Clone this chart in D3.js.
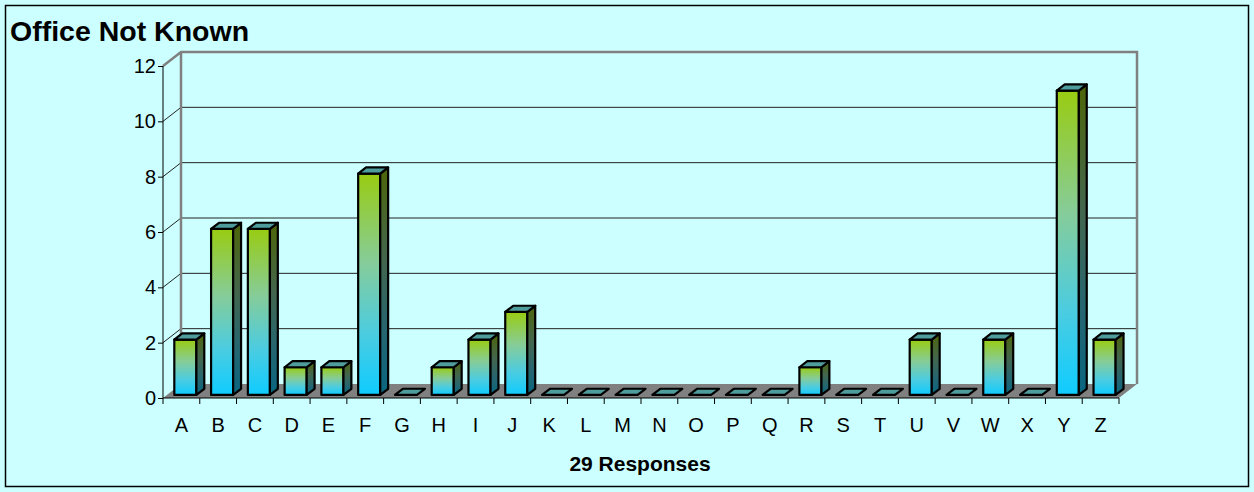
<!DOCTYPE html>
<html>
<head>
<meta charset="utf-8">
<script src="https://cdn.jsdelivr.net/npm/d3@7"></script>
<style>
  html, body { margin: 0; padding: 0; background: #ccffff; }
  svg { display: block; }
  text { font-family: Arial, "Liberation Sans", sans-serif; fill: #000; }
</style>
</head>
<body>
<svg id="chart" width="1254" height="492"></svg>
<script>
// Responses per office letter
const categories = ["A","B","C","D","E","F","G","H","I","J","K","L","M","N","O","P","Q","R","S","T","U","V","W","X","Y","Z"];
const counts     = [ 2,  6,  6,  1,  1,  8,  0,  1,  2,  3,  0,  0,  0,  0,  0,  0,  0,  1,  0,  0,  2,  0,  2,  0, 11,  2];
const yTicks     = [0, 2, 4, 6, 8, 10, 12];
const chartTitle = "Office Not Known";
const xTitle     = "29 Responses";

const W = 1254, H = 492;
const svg = d3.select("#chart");

// Plot frame (front plane) and the 3-D depth offset of the back wall
const pLeft = 163, pRight = 1119, pTop = 66, pBottom = 398;
const depthX = 18, depthY = 14;

const x = d3.scaleBand().domain(categories).range([pLeft, pRight]).paddingInner(0.4).paddingOuter(0.2);
const xEdge = d3.scaleBand().domain(categories).range([pLeft, pRight]).padding(0);
const y = d3.scaleLinear().domain([0, 12]).range([pBottom, pTop]);

// Outer frame
svg.append("rect").attr("x", 5.5).attr("y", 5.5).attr("width", W - 11).attr("height", H - 11)
  .attr("fill", "#ccffff").attr("stroke", "#000").attr("stroke-width", 1.5);

// Title
svg.append("text").attr("x", 10).attr("y", 41).attr("font-size", 28.5).attr("font-weight", "bold")
  .text(chartTitle);

// Gradients
const defs = svg.append("defs");
function grad(id, stops) {
  const g = defs.append("linearGradient").attr("id", id).attr("x1", 0).attr("y1", 0).attr("x2", 0).attr("y2", 1);
  stops.forEach(([o, c]) => g.append("stop").attr("offset", o).attr("stop-color", c));
}
grad("gFront", [[0, "#99cc11"], [0.4, "#86cc99"], [0.72, "#4ccce0"], [1, "#0fccff"]]);
grad("gSide",  [[0, "#4d6608"], [0.4, "#43664d"], [0.72, "#266670"], [1, "#086680"]]);

// Floor
svg.append("polygon")
  .attr("points", [[pLeft, pBottom], [pRight, pBottom], [pRight + depthX, pBottom - depthY], [pLeft + depthX, pBottom - depthY]].map(p => p.join(",")).join(" "))
  .attr("fill", "#808080");

// Gridlines: diagonal on the side wall and horizontal on the back wall
const gridVals = yTicks.filter(v => v > 0 && v < 12);
svg.append("g").selectAll("path").data(gridVals).join("path")
  .attr("d", v => `M${pLeft},${y(v)}L${pLeft + depthX},${y(v) - depthY}L${pRight + depthX},${y(v) - depthY}`)
  .attr("fill", "none").attr("stroke", "#222").attr("stroke-width", 1);

// Back wall border (gray)
svg.append("path")
  .attr("d", `M${pLeft},${y(12)}L${pLeft + depthX},${y(12) - depthY}L${pRight + depthX},${y(12) - depthY}L${pRight + depthX},${pBottom - depthY}` +
             `M${pLeft + depthX},${y(12) - depthY}L${pLeft + depthX},${pBottom - depthY}`)
  .attr("fill", "none").attr("stroke", "#808080").attr("stroke-width", 2.5);

// Bars (3-D boxes placed in the middle of the depth)
const f0 = 0.22, f1 = 0.66;
const sx0 = depthX * f0, sy0 = depthY * f0;
const bdx = depthX * (f1 - f0), bdy = depthY * (f1 - f0);
const bw = x.bandwidth();
const data = categories.map((c, i) => ({ c, v: counts[i] }));

const bars = svg.append("g").selectAll("g").data(data).join("g");
bars.each(function(d) {
  const g = d3.select(this);
  const x0 = x(d.c) + sx0, x1 = x0 + bw;
  const yt = y(d.v) - sy0, yb = y(0) - sy0;
  if (d.v > 0) {
    g.append("rect").attr("x", x0).attr("y", yt).attr("width", bw).attr("height", yb - yt)
      .attr("fill", "url(#gFront)").attr("stroke", "#000").attr("stroke-width", 2.2).attr("stroke-linejoin", "round");
    g.append("polygon")
      .attr("points", [[x1, yt], [x1 + bdx, yt - bdy], [x1 + bdx, yb - bdy], [x1, yb]].map(p => p.join(",")).join(" "))
      .attr("fill", "url(#gSide)").attr("stroke", "#000").attr("stroke-width", 2.2).attr("stroke-linejoin", "round");
  }
  g.append("polygon")
    .attr("points", [[x0, yt], [x1, yt], [x1 + bdx, yt - bdy], [x0 + bdx, yt - bdy]].map(p => p.join(",")).join(" "))
    .attr("fill", "#4f9c9c").attr("stroke", "#000").attr("stroke-width", 2.2).attr("stroke-linejoin", "round");
});

// Value axis
const yAxis = d3.axisLeft(y).tickValues(yTicks).tickSize(5).tickPadding(2).tickFormat(d3.format("d"));
const ya = svg.append("g").attr("transform", `translate(${pLeft},0)`).call(yAxis);
ya.select(".domain").attr("stroke", "#000").attr("d", `M0,${pTop}V${pBottom}`);
ya.selectAll("text").attr("font-size", 20).attr("font-family", "Arial, 'Liberation Sans', sans-serif");

// Category axis: ticks on category boundaries
const xa = svg.append("g");
xa.append("line").attr("x1", pLeft).attr("x2", pRight).attr("y1", pBottom).attr("y2", pBottom).attr("stroke", "#000");
const edges = categories.map(c => xEdge(c)).concat([pRight]);
xa.selectAll("line.tk").data(edges).join("line").attr("class", "tk")
  .attr("x1", d => d).attr("x2", d => d).attr("y1", pBottom).attr("y2", pBottom + 6).attr("stroke", "#000");
xa.selectAll("text").data(categories).join("text")
  .attr("x", c => xEdge(c) + xEdge.bandwidth() / 2).attr("y", 432)
  .attr("text-anchor", "middle").attr("font-size", 20).text(c => c);

// Category axis title
svg.append("text").attr("x", 640).attr("y", 471).attr("text-anchor", "middle")
  .attr("font-size", 21).attr("font-weight", "bold").text(xTitle);
</script>
</body>
</html>
